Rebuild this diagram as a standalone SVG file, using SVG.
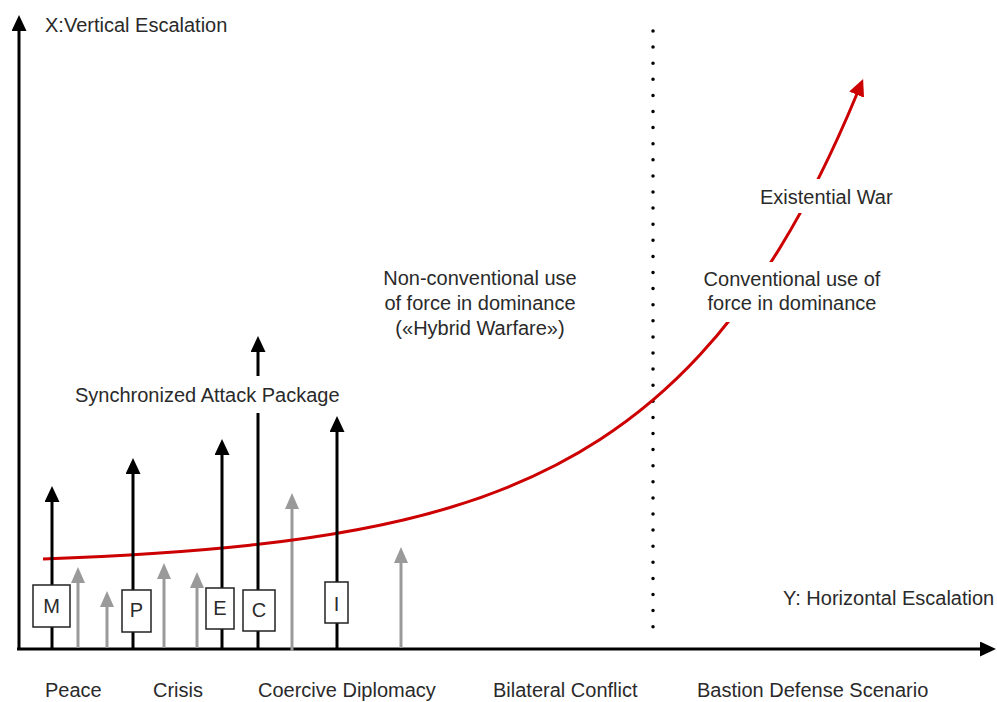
<svg xmlns="http://www.w3.org/2000/svg" width="997" height="702" viewBox="0 0 997 702">
<style>
text{font-family:"Liberation Sans",Arial,sans-serif;font-size:20px;fill:#2a2a2a}
.blk{stroke:#000;stroke-width:3;fill:none}
.gry{stroke:#9a9a9a;stroke-width:3;fill:none}
.red{stroke:#cc0000;stroke-width:3;fill:none}
.box{fill:#fff;stroke:#222;stroke-width:1.5}
.bg{fill:#fff}
.mid{text-anchor:middle}
</style>
<defs>
<marker id="ah-k" viewBox="0 0 16 15" refX="1" refY="7.5" markerWidth="16" markerHeight="15" markerUnits="userSpaceOnUse" orient="auto"><path d="M0,0 L16,7.5 L0,15 Z" fill="#000"/></marker>
<marker id="ah-g" viewBox="0 0 16 14" refX="1" refY="7" markerWidth="16" markerHeight="14" markerUnits="userSpaceOnUse" orient="auto"><path d="M0,0 L16,7 L0,14 Z" fill="#9a9a9a"/></marker>
<marker id="ah-r" viewBox="0 0 17 16" refX="1" refY="8" markerWidth="17" markerHeight="16" markerUnits="userSpaceOnUse" orient="auto"><path d="M0,0 L17,8 L0,16 Z" fill="#cc0000"/></marker>
</defs>

<g id="axes">
<line class="blk" x1="19" y1="650" x2="19" y2="30" marker-end="url(#ah-k)"/>
<line class="blk" x1="17" y1="649" x2="981" y2="649" marker-end="url(#ah-k)"/>
<line x1="653" y1="31" x2="653" y2="628" stroke="#000" stroke-width="3.5" stroke-linecap="round" stroke-dasharray="0 16.1"/>
</g>

<g id="connectors">
<line class="gry" x1="78" y1="648" x2="78" y2="582" marker-end="url(#ah-g)"/>
<line class="gry" x1="107" y1="648" x2="107" y2="606" marker-end="url(#ah-g)"/>
<line class="gry" x1="164" y1="648" x2="164" y2="578" marker-end="url(#ah-g)"/>
<line class="gry" x1="197" y1="648" x2="197" y2="587" marker-end="url(#ah-g)"/>
<line class="gry" x1="292" y1="651" x2="292" y2="508" marker-end="url(#ah-g)"/>
<line class="gry" x1="401" y1="648" x2="401" y2="562" marker-end="url(#ah-g)"/>
<path class="red" d="M43,559 C112,556.4 181,552.7 250,545.2 C316.7,538 383.3,527.6 450,507.5 C500,492.4 550,472 600,439.5 C633.3,417.9 666.7,390.9 700,354.8 C726.7,325.9 753.3,291.2 780,247.7 C805.7,205.8 831.3,155.8 857,93.7" marker-end="url(#ah-r)"/>
<line class="blk" x1="52" y1="648" x2="52" y2="501" marker-end="url(#ah-k)"/>
<line class="blk" x1="133" y1="648" x2="133" y2="473" marker-end="url(#ah-k)"/>
<line class="blk" x1="222" y1="648" x2="222" y2="454" marker-end="url(#ah-k)"/>
<line class="blk" x1="258" y1="648" x2="258" y2="351" marker-end="url(#ah-k)"/>
<line class="blk" x1="337" y1="648" x2="337" y2="431" marker-end="url(#ah-k)"/>
</g>

<g id="box-M"><rect class="box" x="33" y="585" width="37" height="42"/><text class="mid" x="51.5" y="613">M</text></g>
<g id="box-P"><rect class="box" x="122" y="590" width="29" height="42"/><text class="mid" x="136.5" y="617">P</text></g>
<g id="box-E"><rect class="box" x="206" y="588" width="28" height="41"/><text class="mid" x="220" y="615">E</text></g>
<g id="box-C"><rect class="box" x="243" y="590" width="32" height="41"/><text class="mid" x="259" y="617">C</text></g>
<g id="box-I"><rect class="box" x="325" y="582" width="23" height="41"/><text class="mid" x="336.5" y="611">I</text></g>

<g id="label-x-axis"><text x="45" y="32">X:Vertical Escalation</text></g>
<g id="label-y-axis"><text x="783" y="605">Y: Horizontal Escalation</text></g>
<g id="label-sync"><rect class="bg" x="72" y="376" width="278" height="37"/><text x="75" y="402">Synchronized Attack Package</text></g>
<g id="label-hybrid">
<text class="mid" x="480" y="285">Non-conventional use</text>
<text class="mid" x="480" y="310">of force in dominance</text>
<text class="mid" x="480" y="335">(«Hybrid Warfare»)</text>
</g>
<g id="label-conventional"><rect class="bg" x="700" y="262" width="186" height="60"/>
<text class="mid" x="792" y="286">Conventional use of</text>
<text class="mid" x="792" y="310">force in dominance</text>
</g>
<g id="label-existential"><rect class="bg" x="756" y="179" width="141" height="34"/><text x="760" y="204">Existential War</text></g>
<g id="phases">
<text x="45" y="697">Peace</text>
<text x="153" y="697">Crisis</text>
<text x="258" y="697">Coercive Diplomacy</text>
<text x="493" y="697">Bilateral Conflict</text>
<text x="697" y="697">Bastion Defense Scenario</text>
</g>
</svg>
